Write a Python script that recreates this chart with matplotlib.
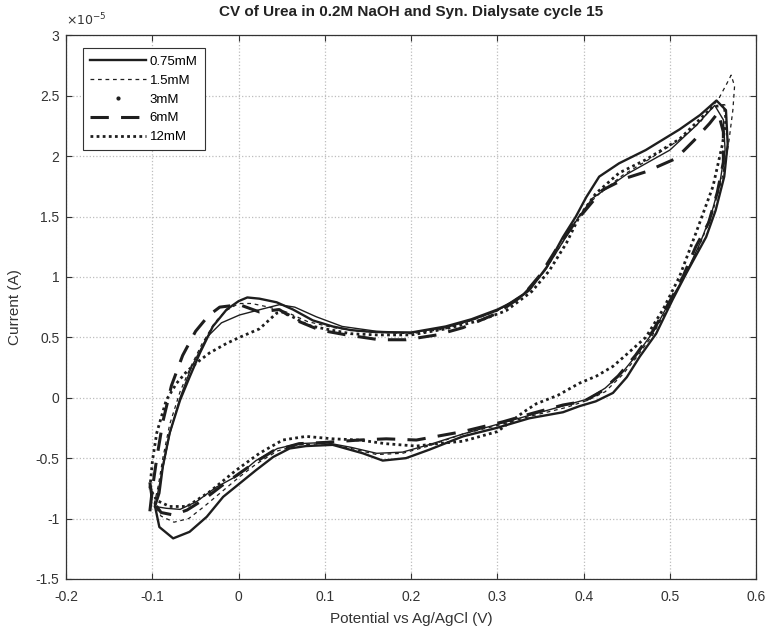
import matplotlib
matplotlib.use("Agg")
import matplotlib.pyplot as plt
from matplotlib.lines import Line2D
from matplotlib.ticker import FuncFormatter

plt.rcParams['font.family'] = ['Liberation Sans', 'DejaVu Sans']
plt.rcParams['axes.unicode_minus'] = False

# potential (V) and current (x1e-5 A), one closed loop per concentration
labels = ['0.75mM', '1.5mM', '3mM', '6mM', '12mM']

e_075 = [-0.097, -0.092, -0.088, -0.080, -0.068, -0.057, -0.045, -0.030, -0.014, 0.000,
         0.010, 0.024, 0.044, 0.063, 0.086, 0.109, 0.130, 0.155, 0.180, 0.200,
         0.240, 0.270, 0.300, 0.320, 0.337, 0.357, 0.376, 0.391, 0.403, 0.418,
         0.441, 0.472, 0.511, 0.535, 0.554,
         0.565, 0.567, 0.563, 0.553, 0.542, 0.519, 0.503, 0.484, 0.465, 0.450,
         0.434, 0.414, 0.395, 0.376, 0.337, 0.299, 0.260, 0.221, 0.194, 0.167,
         0.144, 0.109, 0.078, 0.059, 0.040, 0.020, 0.001, -0.018, -0.037, -0.057,
         -0.076, -0.092, -0.097]
i_075 = [-0.90, -0.79, -0.57, -0.29, -0.02, 0.17, 0.37, 0.59, 0.73, 0.80,
         0.83, 0.82, 0.79, 0.73, 0.64, 0.59, 0.56, 0.545, 0.54, 0.54,
         0.59, 0.65, 0.73, 0.80, 0.89, 1.08, 1.33, 1.50, 1.66, 1.83,
         1.94, 2.05, 2.22, 2.34, 2.46,
         2.38, 2.10, 1.83, 1.55, 1.33, 1.03, 0.81, 0.53, 0.34, 0.17,
         0.04, -0.03, -0.07, -0.12, -0.17, -0.25, -0.32, -0.43, -0.50, -0.52,
         -0.46, -0.39, -0.40, -0.42, -0.49, -0.60, -0.71, -0.82, -0.985, -1.11,
         -1.164, -1.07, -0.90]

e_15 = [-0.098, -0.093, -0.088, -0.080, -0.068, -0.056, -0.043, -0.028, -0.015, 0.000,
        0.015, 0.035, 0.055, 0.080, 0.110, 0.140, 0.170, 0.200, 0.240, 0.270,
        0.300, 0.330, 0.355, 0.375, 0.392, 0.405, 0.420, 0.445, 0.475, 0.510,
        0.535, 0.557, 0.566, 0.571,
        0.575, 0.573, 0.568, 0.560, 0.548, 0.532, 0.515, 0.498, 0.480, 0.462,
        0.445, 0.425, 0.405, 0.380, 0.340, 0.300, 0.260, 0.220, 0.190, 0.160,
        0.130, 0.100, 0.070, 0.045, 0.020, 0.000, -0.020, -0.040, -0.058, -0.075,
        -0.090, -0.098]
i_15 = [-0.88, -0.72, -0.50, -0.22, 0.05, 0.25, 0.44, 0.62, 0.72, 0.78,
        0.78, 0.75, 0.71, 0.63, 0.58, 0.55, 0.54, 0.53, 0.57, 0.64,
        0.72, 0.85, 1.05, 1.28, 1.48, 1.60, 1.70, 1.84, 1.97, 2.13,
        2.28, 2.48, 2.60, 2.67,
        2.58, 2.38, 2.10, 1.80, 1.50, 1.22, 0.98, 0.75, 0.52, 0.34,
        0.19, 0.05, -0.02, -0.08, -0.15, -0.23, -0.30, -0.40, -0.46, -0.47,
        -0.42, -0.38, -0.39, -0.44, -0.55, -0.66, -0.78, -0.90, -1.00, -1.03,
        -0.98, -0.88]

e_3 = [-0.097, -0.090, -0.080, -0.068, -0.055, -0.037, -0.020, 0.001, 0.025, 0.047,
       0.065, 0.090, 0.120, 0.160, 0.200, 0.240, 0.270, 0.300, 0.330, 0.355,
       0.375, 0.392, 0.410, 0.450, 0.500, 0.530, 0.552,
       0.562, 0.564, 0.558, 0.548, 0.535, 0.518, 0.500, 0.482, 0.462, 0.445,
       0.425, 0.405, 0.380, 0.340, 0.300, 0.260, 0.220, 0.190, 0.160, 0.130,
       0.100, 0.070, 0.045, 0.020, 0.000, -0.026, -0.049, -0.068, -0.084, -0.097]
i_3 = [-0.90, -0.65, -0.30, 0.00, 0.25, 0.50, 0.62, 0.685, 0.73, 0.77,
       0.75, 0.67, 0.59, 0.55, 0.54, 0.58, 0.64, 0.72, 0.86, 1.05,
       1.28, 1.47, 1.65, 1.85, 2.05, 2.25, 2.42,
       2.30, 2.05, 1.78, 1.52, 1.28, 1.02, 0.80, 0.56, 0.36, 0.21,
       0.08, -0.01, -0.06, -0.14, -0.22, -0.30, -0.39, -0.45, -0.46,
       -0.41, -0.37, -0.38, -0.42, -0.52, -0.64, -0.74, -0.86, -0.924, -0.915, -0.90]

e_6 = [-0.103, -0.100, -0.095, -0.088, -0.078, -0.065, -0.050, -0.035, -0.022, 0.001,
       0.024, 0.047, 0.067, 0.094, 0.125, 0.163, 0.194, 0.230, 0.260, 0.300,
       0.330, 0.350, 0.370, 0.390, 0.410, 0.422, 0.450, 0.472, 0.507, 0.528,
       0.546, 0.556,
       0.562, 0.562, 0.555, 0.545, 0.530, 0.515, 0.500, 0.480, 0.460, 0.440,
       0.420, 0.400, 0.376, 0.340, 0.306, 0.260, 0.206, 0.171, 0.140, 0.100,
       0.070, 0.040, 0.020, 0.000, -0.020, -0.040, -0.060, -0.076, -0.090, -0.100,
       -0.103]
i_6 = [-0.94, -0.75, -0.50, -0.20, 0.10, 0.35, 0.55, 0.68, 0.75, 0.77,
       0.71, 0.73, 0.64, 0.56, 0.52, 0.48, 0.48, 0.52, 0.58, 0.70,
       0.85, 1.02, 1.25, 1.45, 1.62, 1.72, 1.82, 1.87, 1.98, 2.13,
       2.27, 2.36,
       2.20, 1.95, 1.70, 1.45, 1.25, 1.00, 0.80, 0.55, 0.35, 0.18,
       0.05, -0.03, -0.06, -0.13, -0.20, -0.28, -0.35, -0.34, -0.35, -0.37,
       -0.38, -0.44, -0.53, -0.63, -0.73, -0.84, -0.93, -0.97, -0.95, -0.85,
       -0.70]

e_12 = [-0.103, -0.100, -0.095, -0.084, -0.072, -0.060, -0.045, -0.034, -0.014, 0.001,
        0.024, 0.044, 0.052, 0.065, 0.080, 0.100, 0.130, 0.160, 0.200, 0.240,
        0.280, 0.310, 0.340, 0.360, 0.380, 0.395, 0.414, 0.441, 0.472, 0.511,
        0.534, 0.550, 0.563,
        0.565, 0.561, 0.550, 0.530, 0.511, 0.492, 0.472, 0.450, 0.434, 0.415,
        0.395, 0.370, 0.345, 0.330, 0.300, 0.260, 0.230, 0.206, 0.170, 0.140,
        0.109, 0.078, 0.051, 0.024, -0.003, -0.034, -0.060, -0.080, -0.095, -0.103]
i_12 = [-0.75, -0.52, -0.29, -0.02, 0.12, 0.22, 0.31, 0.37, 0.45, 0.50,
        0.57, 0.70, 0.71, 0.66, 0.60, 0.57, 0.53, 0.52, 0.52, 0.57,
        0.64, 0.72, 0.88, 1.05, 1.28, 1.50, 1.69, 1.86, 1.97, 2.14,
        2.30, 2.41, 2.42,
        2.30, 2.10, 1.75, 1.36, 1.00, 0.73, 0.50, 0.36, 0.26, 0.18,
        0.12, 0.02, -0.05, -0.12, -0.28, -0.36, -0.38, -0.40, -0.38, -0.35,
        -0.34, -0.32, -0.35, -0.46, -0.60, -0.78, -0.90, -0.90, -0.85, -0.75]

potentials = [e_075, e_15, e_3, e_6, e_12]
currents = [i_075, i_15, i_3, i_6, i_12]

ink = '#1e1e1e'
styles = [dict(ls='-', lw=1.7),
          dict(ls=(0, (3, 3)), lw=0.9),
          dict(ls='-', lw=1.0),
          dict(ls=(0, (6, 4)), lw=2.2),
          dict(ls=(0, (1, 1.2)), lw=2.0)]

fig = plt.figure(figsize=(7.7, 6.3), dpi=100)
ax = fig.add_axes([0.086, 0.081, 0.896, 0.863])

for e, i, st in zip(potentials, currents, styles):
    ax.plot(e, [v * 1e-5 for v in i], color=ink, **st)

ax.set_xlim(-0.2, 0.6)
ax.set_ylim(-1.5e-5, 3e-5)
ax.set_xticks([-0.2, -0.1, 0, 0.1, 0.2, 0.3, 0.4, 0.5, 0.6])
ax.set_yticks([v * 1e-5 for v in [-1.5, -1, -0.5, 0, 0.5, 1, 1.5, 2, 2.5, 3]])
ax.xaxis.set_major_formatter(FuncFormatter(lambda v, p: '%g' % round(v, 3)))
ax.yaxis.set_major_formatter(FuncFormatter(lambda v, p: '%g' % round(v / 1e-5, 3)))
ax.tick_params(direction='in', top=True, right=True, length=4, labelsize=10,
               colors='#333333', width=0.8)
ax.tick_params(axis='x', pad=8)
ax.tick_params(axis='y', pad=5)
ax.grid(True, color='#bdbdbd', ls=':', lw=0.9)
for s in ax.spines.values():
    s.set_color('#333333')
    s.set_linewidth(0.9)

ax.text(0.0, 1.012, r'$\times10^{-5}$', transform=ax.transAxes, fontsize=9,
        color='#333333', va='bottom', ha='left')
ax.set_title('CV of Urea in 0.2M NaOH and Syn. Dialysate cycle 15', fontsize=11,
             fontweight='bold', color='#222222', pad=14)
ax.set_xlabel('Potential vs Ag/AgCl (V)', fontsize=11, color='#333333', labelpad=6)
ax.set_ylabel('Current (A)', fontsize=11, color='#333333', labelpad=10)

handles = [Line2D([], [], color=ink, ls='-', lw=1.7),
           Line2D([], [], color=ink, ls=(0, (3, 3)), lw=0.9),
           Line2D([], [], color=ink, ls='none', marker='.', markersize=4),
           Line2D([], [], color=ink, ls=(0, (6, 4)), lw=2.2),
           Line2D([], [], color=ink, ls=(0, (1, 1.2)), lw=2.0)]
leg = ax.legend(handles, labels, loc='upper left', bbox_to_anchor=(0.015, 0.988),
                fontsize=9.5, fancybox=False, framealpha=1, handlelength=4.2,
                borderpad=0.55, labelspacing=0.5, handletextpad=0.3)
leg.get_frame().set_edgecolor('#333333')
leg.get_frame().set_linewidth(0.8)

fig.savefig('out.png', dpi=100)
